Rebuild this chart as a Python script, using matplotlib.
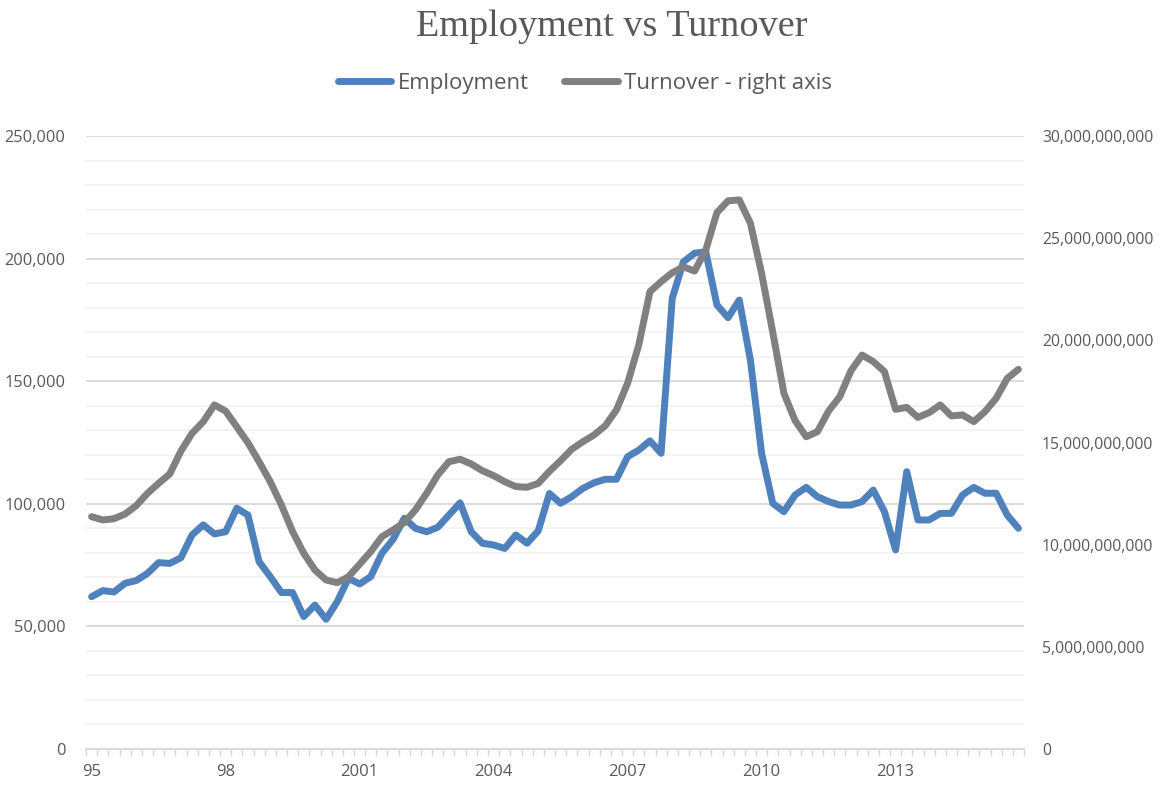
import matplotlib
matplotlib.use('Agg')
import matplotlib.pyplot as plt
from matplotlib.ticker import MultipleLocator, FixedLocator, FuncFormatter

# quarterly, 1995 Q1 - 2015 Q4
quarters = [f'{y} Q{q}' for y in range(1995, 2016) for q in range(1, 5)]

employment = [
    62.1, 64.6, 64.0, 67.6, 68.7, 71.6, 76.0, 75.7, 78.0, 87.3,
    91.4, 87.7, 88.6, 98.2, 95.4, 76.4, 70.3, 63.8, 63.8, 54.0,
    58.7, 52.9, 60.1, 69.6, 67.3, 70.3, 79.8, 85.5, 94.1, 90.0,
    88.6, 90.4, 95.4, 100.4, 88.6, 83.9, 83.2, 81.8, 87.3, 83.9,
    89.0, 104.2, 100.2, 102.9, 106.3, 108.6, 110.0, 110.0, 119.2, 121.9,
    125.7, 120.6, 183.8, 198.7, 202.2, 202.8, 181.1, 175.9, 183.1, 158.6,
    120.6, 100.2, 96.8, 103.6, 106.7, 102.9, 100.9, 99.5, 99.5, 100.9,
    105.6, 96.8, 81.2, 113.1, 93.4, 93.4, 96.1, 96.1, 103.6, 106.7,
    104.3, 104.3, 95.4, 90.0,
]
employment = [v * 1000 for v in employment]

turnover = [
    11.37, 11.21, 11.27, 11.50, 11.91, 12.51, 13.00, 13.46, 14.58, 15.45,
    16.02, 16.84, 16.54, 15.77, 14.99, 14.06, 13.08, 11.94, 10.64, 9.58,
    8.76, 8.27, 8.14, 8.43, 9.04, 9.66, 10.39, 10.72, 11.08, 11.70,
    12.51, 13.41, 14.06, 14.18, 13.95, 13.62, 13.38, 13.08, 12.84, 12.81,
    13.00, 13.59, 14.11, 14.67, 15.04, 15.37, 15.82, 16.59, 17.90, 19.77,
    22.38, 22.87, 23.31, 23.60, 23.39, 24.42, 26.25, 26.83, 26.87, 25.73,
    23.28, 20.40, 17.41, 16.07, 15.28, 15.53, 16.54, 17.24, 18.51, 19.28,
    18.96, 18.47, 16.62, 16.72, 16.23, 16.46, 16.84, 16.30, 16.35, 16.02,
    16.51, 17.16, 18.14, 18.58,
]
turnover = [v * 1e9 for v in turnover]

tick_pos = [0, 12, 24, 36, 48, 60, 72]
tick_labels = ['95', '98', '2001', '2004', '2007', '2010', '2013']

text_col = '#595959'
blue = '#4f81bd'
grey = '#808080'
font = 'Open Sans'

fig = plt.figure(figsize=(11.64, 7.85), dpi=100)
ax = fig.add_axes([86/1164, 1-749/785, (1024-86)/1164, (749-136)/785])
ax2 = ax.twinx()

x = list(range(len(quarters)))

ax.plot(x, employment, color=blue, lw=5, solid_capstyle='round',
        solid_joinstyle='round', label='Employment')
ax2.plot(x, turnover, color=grey, lw=5, solid_capstyle='round',
         solid_joinstyle='round', label='Turnover - right axis')

ax.set_xlim(-0.5, len(quarters) - 0.5)
ax.set_ylim(0, 250000)
ax2.set_ylim(0, 30e9)

#grid
ax.yaxis.set_major_locator(MultipleLocator(50000))
ax.yaxis.set_minor_locator(MultipleLocator(10000))
ax.grid(axis='y', which='major', color='#d9d9d9', lw=1.3)
ax.grid(axis='y', which='minor', color='#f2f2f2', lw=1.3)
ax.set_axisbelow(True)

ax2.yaxis.set_major_locator(MultipleLocator(5e9))

#x ticks
ax.xaxis.set_major_locator(FixedLocator(tick_pos))
ax.set_xticklabels(tick_labels)
ax.xaxis.set_minor_locator(FixedLocator([i - 0.5 for i in range(len(quarters) + 1)]))
ax.tick_params(axis='x', which='major', length=0, pad=11,
               labelsize=12, labelcolor=text_col)
ax.tick_params(axis='x', which='minor', length=5, width=1, color='#d9d9d9',
               direction='out')

ax.yaxis.set_major_formatter(FuncFormatter(lambda v, p: f'{v:,.0f}'))
ax2.yaxis.set_major_formatter(FuncFormatter(lambda v, p: f'{v:,.0f}'))
ax.tick_params(axis='y', which='both', length=0, pad=15,
               labelsize=11.8, labelcolor=text_col)
ax2.tick_params(axis='y', which='both', length=0, pad=13,
                labelsize=11.3, labelcolor=text_col)

for a in (ax, ax2):
    for s in ('left', 'right', 'top'):
        a.spines[s].set_visible(False)
    a.spines['bottom'].set_color('#d9d9d9')
    a.spines['bottom'].set_linewidth(1.3)
ax2.spines['bottom'].set_visible(False)

for lab in ax.get_xticklabels() + ax.get_yticklabels() + ax2.get_yticklabels():
    lab.set_family(font)

#title
fig.text(612/1164, 1-27/785, 'Employment vs Turnover', ha='center', va='center',
         family='Liberation Serif', fontsize=27.5, color=text_col)

#legend
h1, l1 = ax.get_legend_handles_labels()
h2, l2 = ax2.get_legend_handles_labels()
leg = fig.legend(h1 + h2, l1 + l2, loc='center', ncol=2,
                 bbox_to_anchor=(585/1164, 1-83/785), frameon=False,
                 handlelength=2.4, handletextpad=0.3, columnspacing=1.6,
                 prop={'family': font, 'size': 16})
for t in leg.get_texts():
    t.set_color(text_col)

fig.savefig('out.png', dpi=100)
